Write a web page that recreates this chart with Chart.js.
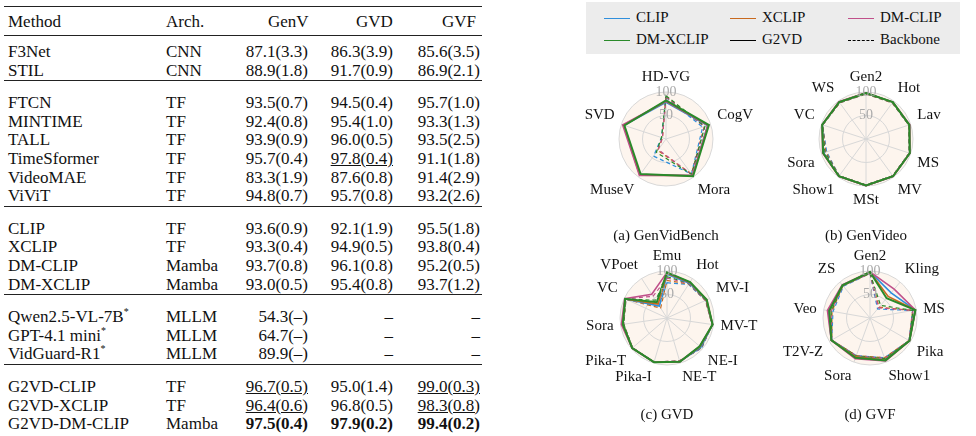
<!DOCTYPE html>
<html><head><meta charset="utf-8">
<script src="https://cdn.jsdelivr.net/npm/chart.js@4/dist/chart.umd.min.js"></script>
<style>
body{margin:0;width:976px;height:436px;overflow:hidden;background:#fff;font-family:"Liberation Serif",serif;color:#111;position:relative}
.t{position:absolute;font-size:17px;white-space:nowrap;line-height:18px}
.t sup{line-height:0;font-size:10px}
.r{text-align:right}
.rule{position:absolute;left:4px;width:478px;background:#222}
.cv{position:absolute}
.cap{position:absolute;font-size:15px;width:200px;text-align:center}
#legend{position:absolute;left:586px;top:2px;width:374px;height:52px;background:#ececec;font-size:15px}
.li{position:absolute;line-height:18px}
.li span{display:inline-block;width:26px;height:0;border-top:1.5px solid;vertical-align:middle;margin-right:6px}
</style></head><body>
<div id="legend"></div>
<div id="charts"></div>
<script>
// ---- table data ----
const methods=["F3Net","STIL","FTCN","MINTIME","TALL","TimeSformer","VideoMAE","ViViT","CLIP","XCLIP","DM-CLIP","DM-XCLIP","Qwen2.5-VL-7B<sup>*</sup>","GPT-4.1 mini<sup>*</sup>","VidGuard-R1<sup>*</sup>","G2VD-CLIP","G2VD-XCLIP","G2VD-DM-CLIP"];
const archs=["CNN","CNN","TF","TF","TF","TF","TF","TF","TF","TF","Mamba","Mamba","MLLM","MLLM","MLLM","TF","TF","Mamba"];
const genV=["87.1(3.3)","88.9(1.8)","93.5(0.7)","92.4(0.8)","93.9(0.9)","95.7(0.4)","83.3(1.9)","94.8(0.7)","93.6(0.9)","93.3(0.4)","93.7(0.8)","93.0(0.5)","54.3(–)","64.7(–)","89.9(–)","<u>96.7(0.5)</u>","<u>96.4(0.6)</u>","<b>97.5(0.4)</b>"];
const gvd=["86.3(3.9)","91.7(0.9)","94.5(0.4)","95.4(1.0)","96.0(0.5)","<u>97.8(0.4)</u>","87.6(0.8)","95.7(0.8)","92.1(1.9)","94.9(0.5)","96.1(0.8)","95.4(0.8)","–","–","–","95.0(1.4)","96.8(0.5)","<b>97.9(0.2)</b>"];
const gvf=["85.6(3.5)","86.9(2.1)","95.7(1.0)","93.3(1.3)","93.5(2.5)","91.1(1.8)","91.4(2.9)","93.2(2.6)","95.5(1.8)","93.8(0.4)","95.2(0.5)","93.7(1.2)","–","–","–","<u>99.0(0.3)</u>","<u>98.3(0.8)</u>","<b>99.4(0.2)</b>"];
const groupBreaks=[2,8,12,15];

// ---- radar data ----
const seriesColors=["#2f8fdc","#c8691e","#c0508a","#2a8a2a"];

const genVidBenchLabels=["HD-VG","CogV","Mora","MuseV","SVD"];
const genVidBenchG2VD=[[78,93,96,94,94],[80,94,96,95,95],[80,94,96,96,97],[82,96,98,92,93]];
const genVidBenchBackbone=[[88,82,92,45,10],[90,86,92,30,8],[90,86,93,28,8],[92,87,93,35,10]];

const genVideoLabels=["Gen2","Hot","Lav","MS","MV","MSt","Show1","Sora","VC","WS"];
const genVideoG2VD=[[98,97,97,98,98,99,98,95,98,97],[98,97,97,98,98,99,98,96,98,97],[98,97,98,98,98,99,98,97,98,98],[98,97,97,98,98,99,98,96,98,97]];
const genVideoBackbone=[[96,95,96,97,97,98,97,88,97,95],[96,95,96,97,97,98,97,90,97,95],[97,96,96,97,97,98,97,92,97,96],[97,96,96,97,97,98,97,92,97,96]];

const gvdLabels=["Emu","Hot","MV-I","MV-T","NE-I","NE-T","Pika-I","Pika-T","Sora","VC","VPoet"];
const gvdG2VD=[[93,88,92,98,95,97,98,98,95,98,30],[95,90,92,98,93,97,98,98,95,98,35],[97,90,93,98,92,97,98,98,98,99,60],[97,91,93,98,92,97,98,98,95,98,40]];
const gvdBackbone=[[75,85,90,97,98,95,98,97,93,96,30],[80,86,90,97,97,95,98,97,93,96,25],[85,87,90,97,97,95,98,97,94,97,55],[88,88,91,97,96,96,98,97,93,97,45]];

const gvfLabels=["Gen2","Kling","MS","Pika","Show1","Sora","T2V-Z","Veo","ZS"];
const gvfG2VD=[[98,70,98,97,95,88,95,90,90],[98,60,98,97,95,88,95,88,90],[98,80,98,97,97,92,95,92,92],[98,55,98,97,96,90,95,88,91]];
const gvfBackbone=[[95,25,92,96,90,85,94,80,88],[95,30,92,96,90,85,94,82,90],[95,28,93,96,92,86,94,84,90],[95,35,93,96,92,86,94,84,90]];

const tickValues=[25,50,75,100];

// ---- table ----
function put(html,x,y,cls,w){
  const d=document.createElement("div");d.className="t "+(cls||"");d.innerHTML=html;
  d.style.top=(y-9)+"px";
  if(cls==="r"){d.style.left=(x-w)+"px";d.style.width=w+"px"}else d.style.left=x+"px";
  document.body.appendChild(d);
}
function rule(y,h){const d=document.createElement("div");d.className="rule";d.style.top=y+"px";d.style.height=h+"px";document.body.appendChild(d)}
rule(6,1.3);put("Method",8,22);put("Arch.",166,22);put("GenV",268,22);put("GVD",356,22);put("GVF",442,22);
rule(35,1);
let y=52;
for(let i=0;i<methods.length;i++){
  if(groupBreaks.includes(i)){rule(y-9,1);y+=14}
  put(methods[i],8,y);put(archs[i],166,y);
  put(genV[i],308,y,"r",90);put(gvd[i],393,y,"r",90);put(gvf[i],480,y,"r",90);
  y+=18.6;
}

// ---- legend ----
const lg=document.getElementById("legend");
const legendItems=[["CLIP",seriesColors[0],"solid",18,6],["XCLIP",seriesColors[1],"solid",144,6],["DM-CLIP",seriesColors[2],"solid",262,6],
  ["DM-XCLIP",seriesColors[3],"solid",18,28],["G2VD","#000","solid",144,28],["Backbone","#000","dashed",262,28]];
legendItems.forEach(([n,c,s,x,yy])=>{const d=document.createElement("div");d.className="li";d.style.left=x+"px";d.style.top=yy+"px";
  d.innerHTML=`<span style="border-top-color:${c};border-top-style:${s};${s==='dashed'?'border-top-width:1px':''}"></span>${n}`;lg.appendChild(d)});

// ---- radars ----
const bgPlugin={id:"bg",beforeDraw(chart){const r=chart.scales.r,ctx=chart.ctx;ctx.save();ctx.fillStyle="#fdf5ee";
  ctx.beginPath();ctx.arc(r.xCenter,r.yCenter,r.drawingArea,0,Math.PI*2);ctx.fill();ctx.restore()}};
// axis names placed just outside the circle, through the scale
const namePlugin={id:"names",afterDraw(chart){const r=chart.scales.r,ctx=chart.ctx;ctx.save();
  ctx.font="15px 'Liberation Serif'";ctx.fillStyle="#111";
  chart.data.labels.forEach((lab,i)=>{const p=r.getPointPosition(i,r.drawingArea+7);
    const dx=p.x-r.xCenter,dy=p.y-r.yCenter;
    ctx.textAlign=Math.abs(dx)<6?"center":(dx>0?"left":"right");
    ctx.textBaseline=Math.abs(dy)<12?"middle":(dy<0?"bottom":"top");
    ctx.fillText(lab,p.x,p.y)});ctx.restore()}};

function radar(labels,solid,dashed,cx,cy,cap){
  const box=document.createElement("div");box.className="cv";
  const W=240,H=240;box.style.left=(cx-W/2)+"px";box.style.top=(cy-H/2)+"px";box.style.width=W+"px";box.style.height=H+"px";
  const c=document.createElement("canvas");box.appendChild(c);document.getElementById("charts").appendChild(box);
  const ds=[];
  dashed.forEach((d,i)=>ds.push({data:d,borderColor:seriesColors[i],borderWidth:1.2,borderDash:[4,3],pointRadius:0,fill:false,order:10-i}));
  solid.forEach((d,i)=>ds.push({data:d,borderColor:seriesColors[i],borderWidth:i===3?2:1.6,pointRadius:0,fill:false,order:4-i}));
  new Chart(c,{type:"radar",data:{labels,datasets:ds},plugins:[bgPlugin,namePlugin],
    options:{responsive:true,maintainAspectRatio:false,animation:false,layout:{padding:64},
      plugins:{legend:{display:false},tooltip:{enabled:false}},
      elements:{line:{tension:0}},
      scales:{r:{min:0,max:100,
        ticks:{stepSize:25,color:"#aaa",backdropColor:"rgba(0,0,0,0)",font:{family:"Liberation Serif",size:14},z:1,
          callback:v=>tickValues.includes(v)?v:""},
        grid:{circular:true,color:"#d8d8d8"},angleLines:{color:"#d8d8d8"},
        pointLabels:{display:false}}}}});
  const cp=document.createElement("div");cp.className="cap";cp.style.left=(cx-100)+"px";cp.style.top=(cy+88)+"px";cp.textContent=cap;document.body.appendChild(cp);
}
radar(genVidBenchLabels,genVidBenchG2VD,genVidBenchBackbone,666,139,"(a) GenVidBench");
radar(genVideoLabels,genVideoG2VD,genVideoBackbone,866,139,"(b) GenVideo");
radar(gvdLabels,gvdG2VD,gvdBackbone,667,318,"(c) GVD");
radar(gvfLabels,gvfG2VD,gvfBackbone,870,318,"(d) GVF");
</script>
</body></html>
